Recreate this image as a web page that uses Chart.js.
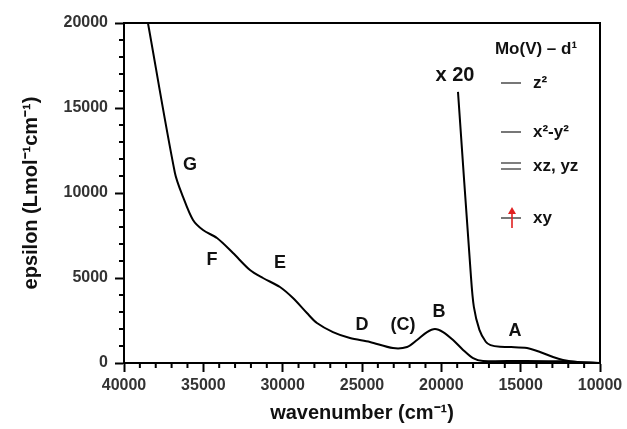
<!DOCTYPE html>
<html>
<head>
<meta charset="utf-8">
<script src="https://cdn.jsdelivr.net/npm/chart.js@4.4.3/dist/chart.umd.min.js"></script>
<style>
  html, body { margin: 0; padding: 0; background: #fff; }
  #wrap { width: 627px; height: 429px; position: relative; }
</style>
</head>
<body>
<div id="wrap"><canvas id="chart" width="627" height="429"></canvas></div>
<script>
/* Mo(V) d1 absorption spectrum — epsilon vs wavenumber */

// main spectrum (high to low wavenumber)
const mainWavenumber = [38490, 36790, 36280, 35650, 35020, 34140, 33130, 32060,
  31240, 30170, 29350, 28470, 27840, 26830, 25760, 24500, 23050, 22160, 21530, 20900, 20400,
  19890, 19260, 18630, 18000, 17370, 15040, 12330, 11250, 10000];
const mainEpsilon = [20000, 11180, 9770, 8410, 7820, 7350, 6470, 5470,
  5000, 4470, 3820, 2940, 2350, 1820, 1470, 1240, 880, 940, 1350, 1820, 2000,
  1820, 1350, 770, 290, 120, 120, 100, 50, 0];

// x 20 magnified low-energy part
const x20Wavenumber = [18950, 18150, 17950, 17600, 17200, 16900, 16300, 15600, 14600,
  13780, 12960, 12330, 11450, 10000];
const x20Epsilon = [15950, 5300, 3300, 1950, 1250, 1050, 950, 940, 880,
  650, 350, 180, 60, 0];

// axis ticks
const xMajorTicks = [40000, 35000, 30000, 25000, 20000, 15000, 10000];
const yMajorTicks = [0, 5000, 10000, 15000, 20000];

// band labels
const bandLabels = ['G', 'F', 'E', 'D', '(C)', 'B', 'A', 'x 20'];
const bandX = [35840, 34450, 30170, 25000, 22420, 20150, 15350, 19140];
const bandY = [11650, 6050, 5880, 2240, 2240, 3000, 1880, 16940];

const FONT = '"Liberation Sans", Arial, Helvetica, sans-serif';

/* ── extras: minor ticks, frame, band labels, d-orbital scheme ── */
const extras = {
  id: 'extras',
  afterDraw(chart) {
    const { ctx, chartArea: a, scales: { x, y } } = chart;
    ctx.save();
    ctx.strokeStyle = '#000';
    ctx.lineWidth = 2;

    // top + right frame
    ctx.beginPath();
    ctx.moveTo(a.left, a.top); ctx.lineTo(a.right, a.top); ctx.lineTo(a.right, a.bottom);
    ctx.stroke();

    // minor ticks
    ctx.beginPath();
    for (let v = x.min; v <= x.max; v += 1000) {
      if (xMajorTicks.includes(v)) continue;
      const px = x.getPixelForValue(v);
      ctx.moveTo(px, a.bottom); ctx.lineTo(px, a.bottom + 5);
    }
    for (let v = y.min; v <= y.max; v += 1000) {
      if (yMajorTicks.includes(v)) continue;
      const py = y.getPixelForValue(v);
      ctx.moveTo(a.left, py); ctx.lineTo(a.left - 5, py);
    }
    ctx.stroke();

    // band labels
    ctx.fillStyle = '#111';
    ctx.textAlign = 'center';
    ctx.textBaseline = 'middle';
    bandLabels.forEach((t, i) => {
      ctx.font = 'bold ' + (t === 'x 20' ? 20 : 18) + 'px ' + FONT;
      ctx.fillText(t, x.getPixelForValue(bandX[i]), y.getPixelForValue(bandY[i]));
    });

    // d-orbital splitting scheme
    const r = a.right;
    ctx.font = 'bold 17px ' + FONT;
    ctx.fillText('Mo(V) \u2013 d\u00B9', r - 64, a.top + 26);
    ctx.textAlign = 'left';
    const levels = [
      { y: 60, text: 'z\u00B2' },
      { y: 109, text: 'x\u00B2-y\u00B2' },
      { y: 140, text: 'xz, yz', double: true },
      { y: 195, text: 'xy' }
    ];
    ctx.strokeStyle = '#555';
    ctx.lineWidth = 1.6;
    levels.forEach(l => {
      ctx.beginPath();
      ctx.moveTo(r - 99, a.top + l.y); ctx.lineTo(r - 79, a.top + l.y);
      if (l.double) { ctx.moveTo(r - 99, a.top + l.y + 6); ctx.lineTo(r - 79, a.top + l.y + 6); }
      ctx.stroke();
      ctx.fillText(l.text, r - 67, a.top + l.y + (l.double ? 3 : 0));
    });

    // red electron arrow on xy
    ctx.strokeStyle = '#e02020';
    ctx.fillStyle = '#e02020';
    ctx.lineWidth = 1.6;
    const ax = r - 88;
    ctx.beginPath();
    ctx.moveTo(ax, a.top + 205); ctx.lineTo(ax, a.top + 189);
    ctx.stroke();
    ctx.beginPath();
    ctx.moveTo(ax, a.top + 184); ctx.lineTo(ax - 4, a.top + 191); ctx.lineTo(ax + 4, a.top + 191);
    ctx.closePath(); ctx.fill();

    ctx.restore();
  }
};

const toPoints = (xs, ys) => xs.map((v, i) => ({ x: v, y: ys[i] }));

new Chart(document.getElementById('chart'), {
  type: 'line',
  data: {
    datasets: [
      { label: 'spectrum', data: toPoints(mainWavenumber, mainEpsilon),
        borderColor: '#000', borderWidth: 2, pointRadius: 0, fill: false, tension: 0.3 },
      { label: 'x 20', data: toPoints(x20Wavenumber, x20Epsilon),
        borderColor: '#000', borderWidth: 2, pointRadius: 0, fill: false, tension: 0.3 }
    ]
  },
  options: {
    responsive: false,
    animation: false,
    events: [],
    layout: { padding: { left: 0, top: 23, right: 27, bottom: 0 } },
    plugins: { legend: { display: false }, tooltip: { enabled: false } },
    scales: {
      x: {
        type: 'linear', reverse: true, min: 10000, max: 40000,
        afterFit: s => { s.height = 66; },
        border: { display: true, color: '#000', width: 2 },
        grid: { drawOnChartArea: false, drawTicks: true, tickLength: 9, tickWidth: 2,
          tickColor: c => xMajorTicks.includes(c.tick?.value) ? '#000' : 'rgba(0,0,0,0)' },
        ticks: { stepSize: 1000, autoSkip: false, maxRotation: 0, padding: 4,
          color: '#333', font: { family: FONT, size: 16, weight: 'bold' },
          callback: v => xMajorTicks.includes(v) ? String(v) : '' },
        title: { display: true, text: 'wavenumber (cm\u207B\u00B9)', color: '#111',
          font: { family: FONT, size: 20, weight: 'bold' }, padding: { top: 0, bottom: 4 } }
      },
      y: {
        min: 0, max: 20000,
        afterFit: s => { s.width = 124; },
        border: { display: true, color: '#000', width: 2 },
        grid: { drawOnChartArea: false, drawTicks: true, tickLength: 9, tickWidth: 2,
          tickColor: c => yMajorTicks.includes(c.tick?.value) ? '#000' : 'rgba(0,0,0,0)' },
        ticks: { stepSize: 1000, autoSkip: false, padding: 7,
          color: '#333', font: { family: FONT, size: 16, weight: 'bold' },
          callback: v => yMajorTicks.includes(v) ? String(v) : '' },
        title: { display: true, text: 'epsilon (Lmol\u207B\u00B9cm\u207B\u00B9)', color: '#111',
          font: { family: FONT, size: 20, weight: 'bold' }, padding: { top: 19, bottom: 0 } }
      }
    }
  },
  plugins: [extras]
});
</script>
</body>
</html>
